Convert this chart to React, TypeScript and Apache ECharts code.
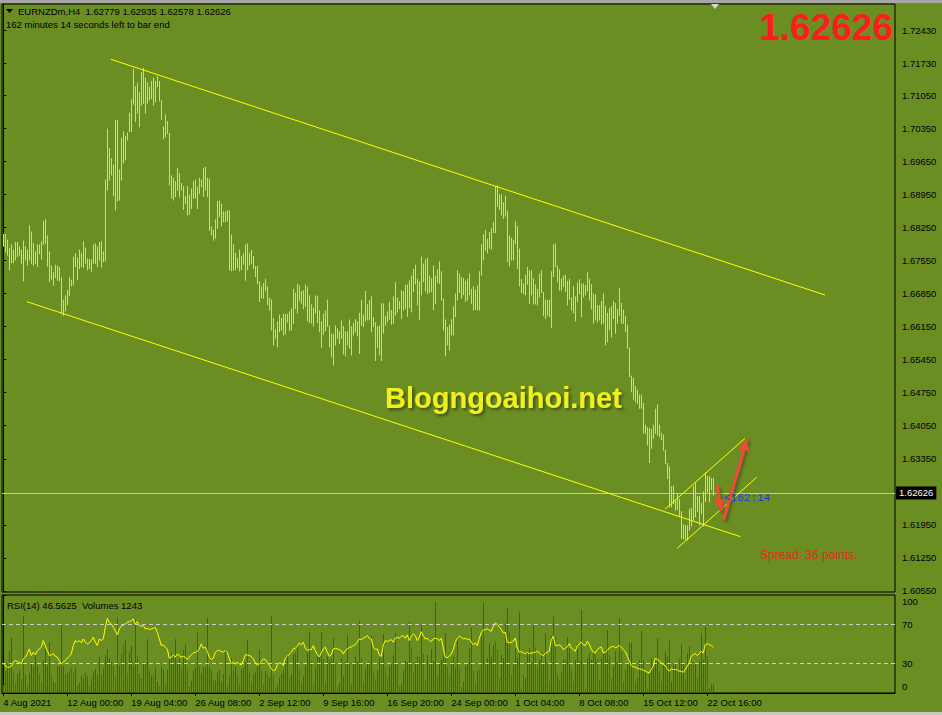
import React, { useEffect, useRef } from 'react';
import * as echarts from 'echarts';

const symbolTitle = 'EURNZDm,H4';
const lastBarOHLC = ['1.62779', '1.62935', '1.62578', '1.62626'];
const timerText = '162 minutes 14 seconds left to bar end';
const currentPrice = 1.62626;
const bigPriceText = '1.62626';
const rsiTitle = 'RSI(14) 46.5625';
const volTitle = 'Volumes 1243';
const countdownText = '<162:14';
const spreadText = 'Spread: 36 points.';
const watermark = 'Blogngoaihoi.net';

const highs = [
  1.6810,1.6810,1.6798,1.6781,1.6788,1.6777,1.6793,1.6793,1.6784,1.6777,
  1.6796,1.6784,1.6777,1.6828,1.6815,1.6791,1.6773,1.6788,1.6788,1.6795,
  1.6837,1.6841,1.6807,1.6773,1.6743,1.6729,1.6745,1.6743,1.6740,1.6718,
  1.6671,1.6680,1.6692,1.6719,1.6713,1.6762,1.6769,1.6760,1.6777,1.6770,
  1.6795,1.6781,1.6758,1.6757,1.6756,1.6788,1.6790,1.6784,1.6793,1.6795,
  1.6773,1.6925,1.7033,1.6992,1.6971,1.6957,1.7052,1.7051,1.6947,1.7013,
  1.7028,1.7018,1.7025,1.7067,1.7095,1.7160,1.7123,1.7130,1.7110,1.7153,
  1.7162,1.7141,1.7131,1.7122,1.7134,1.7141,1.7134,1.7144,1.7134,1.7093,
  1.7038,1.7063,1.7049,1.7024,1.6934,1.6929,1.6922,1.6950,1.6939,1.6918,
  1.6911,1.6890,1.6911,1.6893,1.6906,1.6922,1.6925,1.6910,1.6929,1.6925,
  1.6950,1.6952,1.6929,1.6927,1.6826,1.6819,1.6841,1.6880,1.6881,1.6874,
  1.6858,1.6858,1.6860,1.6860,1.6809,1.6788,1.6770,1.6759,1.6777,1.6763,
  1.6769,1.6788,1.6790,1.6770,1.6776,1.6763,1.6742,1.6742,1.6710,1.6699,
  1.6706,1.6715,1.6699,1.6675,1.6671,1.6632,1.6608,1.6625,1.6639,1.6632,
  1.6641,1.6641,1.6641,1.6646,1.6652,1.6694,1.6686,1.6705,1.6701,1.6689,
  1.6691,1.6703,1.6698,1.6680,1.6661,1.6654,1.6680,1.6678,1.6648,1.6625,
  1.6641,1.6648,1.6671,1.6616,1.6599,1.6599,1.6616,1.6610,1.6604,1.6627,
  1.6615,1.6604,1.6604,1.6629,1.6615,1.6622,1.6629,1.6625,1.6643,1.6671,
  1.6639,1.6689,1.6661,1.6670,1.6678,1.6634,1.6623,1.6615,1.6616,1.6663,
  1.6663,1.6637,1.6646,1.6666,1.6649,1.6678,1.6708,1.6675,1.6668,1.6691,
  1.6689,1.6703,1.6703,1.6712,1.6722,1.6736,1.6745,1.6715,1.6710,1.6762,
  1.6747,1.6756,1.6760,1.6722,1.6716,1.6743,1.6722,1.6735,1.6752,1.6731,
  1.6673,1.6629,1.6613,1.6618,1.6629,1.6657,1.6684,1.6733,1.6726,1.6719,
  1.6717,1.6711,1.6715,1.6726,1.6694,1.6699,1.6692,1.6701,1.6731,1.6788,
  1.6809,1.6818,1.6800,1.6814,1.6822,1.6835,1.6911,1.6913,1.6894,1.6894,
  1.6877,1.6891,1.6860,1.6807,1.6802,1.6798,1.6837,1.6827,1.6779,1.6714,
  1.6705,1.6724,1.6740,1.6733,1.6733,1.6716,1.6703,1.6694,1.6726,1.6733,
  1.6687,1.6671,1.6670,1.6671,1.6731,1.6788,1.6790,1.6743,1.6735,1.6716,
  1.6722,1.6724,1.6711,1.6715,1.6675,1.6700,1.6678,1.6707,1.6714,1.6705,
  1.6705,1.6702,1.6729,1.6715,1.6704,1.6684,1.6682,1.6659,1.6659,1.6668,
  1.6684,1.6658,1.6643,1.6653,1.6657,1.6668,1.6664,1.6651,1.6696,1.6664,
  1.6650,1.6636,1.6618,1.6569,1.6510,1.6505,1.6488,1.6481,1.6470,1.6470,
  1.6452,1.6406,1.6401,1.6399,1.6397,1.6406,1.6440,1.6449,1.6406,1.6389,
  1.6385,1.6353,1.6325,1.6318,1.6276,1.6277,1.6247,1.6260,1.6249,1.6223,
  1.6195,1.6193,1.6193,1.6228,1.6230,1.6276,1.6283,1.6255,1.6255,1.6240,
  1.6265,1.6305,1.6297,1.6297,1.6293,1.62935,
];

const lows = [
  1.6785,1.6773,1.6766,1.6735,1.6750,1.6750,1.6756,1.6763,1.6766,1.6749,
  1.6712,1.6756,1.6745,1.6756,1.6749,1.6745,1.6749,1.6742,1.6769,1.6758,
  1.6789,1.6791,1.6743,1.6710,1.6715,1.6703,1.6719,1.6713,1.6712,1.6643,
  1.6639,1.6648,1.6661,1.6680,1.6701,1.6703,1.6742,1.6715,1.6738,1.6742,
  1.6740,1.6749,1.6735,1.6738,1.6731,1.6749,1.6749,1.6742,1.6756,1.6741,
  1.6752,1.6754,1.6904,1.6925,1.6936,1.6892,1.6862,1.6881,1.6883,1.6925,
  1.6961,1.6968,1.7010,1.7028,1.7028,1.7086,1.7049,1.7067,1.7038,1.7084,
  1.7088,1.7067,1.7088,1.7095,1.7098,1.7084,1.7091,1.7123,1.7093,1.7054,
  1.7013,1.7017,1.7024,1.6915,1.6887,1.6883,1.6890,1.6904,1.6890,1.6904,
  1.6863,1.6876,1.6851,1.6853,1.6865,1.6887,1.6887,1.6865,1.6897,1.6911,
  1.6891,1.6904,1.6890,1.6819,1.6809,1.6798,1.6802,1.6823,1.6848,1.6828,
  1.6837,1.6837,1.6839,1.6735,1.6733,1.6735,1.6735,1.6740,1.6733,1.6735,
  1.6747,1.6713,1.6735,1.6745,1.6749,1.6738,1.6721,1.6706,1.6668,1.6675,
  1.6675,1.6691,1.6661,1.6650,1.6608,1.6576,1.6590,1.6572,1.6604,1.6608,
  1.6597,1.6599,1.6625,1.6606,1.6608,1.6622,1.6653,1.6644,1.6670,1.6664,
  1.6653,1.6658,1.6627,1.6623,1.6622,1.6616,1.6643,1.6623,1.6604,1.6571,
  1.6599,1.6606,1.6615,1.6572,1.6551,1.6533,1.6576,1.6590,1.6579,1.6590,
  1.6557,1.6553,1.6576,1.6569,1.6555,1.6597,1.6604,1.6595,1.6558,1.6618,
  1.6615,1.6627,1.6629,1.6630,1.6604,1.6615,1.6543,1.6571,1.6555,1.6543,
  1.6601,1.6618,1.6625,1.6630,1.6620,1.6622,1.6639,1.6646,1.6653,1.6632,
  1.6650,1.6653,1.6637,1.6655,1.6646,1.6689,1.6705,1.6661,1.6630,1.6682,
  1.6710,1.6690,1.6685,1.6687,1.6689,1.6651,1.6664,1.6708,1.6706,1.6671,
  1.6608,1.6553,1.6576,1.6565,1.6597,1.6597,1.6636,1.6671,1.6687,1.6675,
  1.6682,1.6668,1.6671,1.6682,1.6664,1.6650,1.6651,1.6650,1.6650,1.6724,
  1.6756,1.6776,1.6771,1.6781,1.6779,1.6814,1.6814,1.6869,1.6863,1.6851,
  1.6844,1.6849,1.6752,1.6743,1.6756,1.6756,1.6791,1.6738,1.6701,1.6687,
  1.6685,1.6682,1.6705,1.6664,1.6682,1.6663,1.6663,1.6661,1.6678,1.6687,
  1.6638,1.6632,1.6639,1.6636,1.6613,1.6721,1.6742,1.6710,1.6692,1.6692,
  1.6700,1.6689,1.6661,1.6673,1.6650,1.6644,1.6627,1.6668,1.6685,1.6636,
  1.6678,1.6682,1.6690,1.6671,1.6652,1.6622,1.6629,1.6624,1.6629,1.6620,
  1.6622,1.6576,1.6583,1.6608,1.6593,1.6632,1.6601,1.6622,1.6639,1.6622,
  1.6622,1.6604,1.6569,1.6509,1.6477,1.6461,1.6456,1.6452,1.6442,1.6442,
  1.6389,1.6389,1.6364,1.6327,1.6357,1.6378,1.6389,1.6385,1.6382,1.6375,
  1.6353,1.6325,1.6293,1.6233,1.6233,1.6240,1.6226,1.6228,1.6212,1.6166,
  1.6166,1.6164,1.6163,1.6184,1.6193,1.6205,1.6212,1.6223,1.6195,1.6219,
  1.6193,1.6244,1.6265,1.6244,1.6269,1.62578,
];

const rsi = [
  29.7,28.0,26.3,26.3,27.3,31.4,33.1,32.1,31.4,29.7,
  34.8,36.5,39.9,45.0,38.2,41.6,38.9,43.3,45.0,46.7,
  53.5,48.4,43.3,38.2,38.9,39.9,37.5,36.5,33.1,29.7,
  31.4,33.1,35.5,37.5,39.9,48.4,53.5,51.8,53.5,51.1,
  55.2,51.8,50.1,51.1,53.5,56.9,51.8,48.4,55.2,53.5,
  55.2,67.0,76.2,72.1,70.5,67.0,63.7,59.3,65.4,68.1,
  69.4,70.5,72.1,72.8,73.8,75.5,70.5,72.8,68.8,68.1,
  68.8,65.4,66.0,64.7,65.4,66.0,67.0,62.0,55.2,48.4,
  49.1,46.7,45.0,35.5,36.5,38.9,36.5,39.9,38.2,36.5,
  37.5,36.5,34.1,36.5,38.9,40.9,41.6,42.3,45.0,50.1,
  45.7,46.7,42.3,36.5,34.1,35.5,41.6,43.3,43.3,42.3,
  41.6,43.3,41.6,34.8,29.7,31.4,29.7,31.4,29.7,28.7,
  33.1,38.9,38.9,38.2,37.5,34.8,30.7,28.7,29.7,32.1,
  34.8,34.1,30.7,28.7,24.6,22.9,23.3,28.7,30.7,30.1,
  28.0,35.5,37.5,39.6,41.6,45.0,45.7,47.7,51.1,49.1,
  51.8,45.7,43.6,44.3,44.3,48.4,43.0,39.6,36.9,40.9,
  45.0,46.7,41.6,37.5,38.9,45.0,45.7,45.0,44.3,43.3,
  39.9,43.3,45.0,46.4,47.0,48.4,49.1,51.8,55.2,54.5,
  55.9,56.9,58.6,55.9,55.2,46.7,44.3,45.0,38.9,37.5,
  49.1,53.5,52.5,53.5,54.5,51.8,55.9,56.9,55.9,57.9,
  58.6,55.9,59.3,53.5,57.9,60.3,58.6,53.5,56.9,62.6,
  58.6,55.2,55.9,53.5,52.5,55.2,55.9,55.2,53.5,55.9,
  45.7,36.5,36.2,37.5,39.9,44.3,51.8,55.9,57.9,56.9,
  55.2,55.9,54.5,55.2,51.8,49.1,51.1,48.4,55.9,62.0,
  64.0,64.7,65.4,64.0,63.0,68.1,71.5,69.8,67.4,64.7,
  61.3,62.0,51.8,51.1,51.8,52.8,56.2,46.0,41.6,42.3,
  40.9,40.2,41.6,40.2,40.9,40.9,41.6,42.6,40.9,39.2,
  38.2,40.2,41.6,42.6,54.5,57.9,48.4,48.4,49.1,47.7,
  44.3,45.7,47.0,50.4,46.0,44.3,42.6,47.7,50.4,51.8,
  49.4,48.4,52.8,49.4,45.0,41.6,40.9,44.3,46.0,47.0,
  40.9,41.6,43.6,46.0,47.0,47.7,46.3,47.0,48.4,47.0,
  44.3,42.3,37.5,32.4,28.0,26.7,26.7,25.3,24.6,24.0,
  23.3,22.3,21.2,20.6,24.0,27.3,35.8,34.1,32.8,30.7,
  29.0,28.0,24.6,22.3,24.6,24.0,24.0,23.3,22.3,21.9,
  21.2,24.0,27.3,30.7,37.5,39.2,40.2,38.2,40.2,42.6,
  40.9,49.4,50.4,49.4,48.4,46.6,
];

const volumes = [
  1104,3082,4002,5842,7682,2760,1380,2622,3220,1932,
  10672,2484,920,2760,4324,3542,5244,3772,2668,1472,
  4462,6072,3864,6992,2530,1564,1380,3680,3680,9522,
  3680,2576,2760,3082,3496,2852,3542,1104,1380,2392,
  2024,2852,2300,920,1932,2944,3312,2484,4922,2484,
  3404,5244,6072,4784,4324,3772,2392,10442,3772,5382,
  6762,7452,2760,5612,6532,3772,10212,5060,2622,2024,
  4232,4002,7452,3082,2392,2484,3542,1564,920,3680,
  3220,1380,3220,4922,5520,5152,7452,4232,4692,3220,
  5980,6762,3220,920,1702,3082,3542,8372,3772,2760,
  3542,3680,10442,3542,3082,1840,1702,2852,3220,1564,
  2622,5980,920,2392,4784,3220,3680,2622,1380,3220,
  3542,4232,7360,3082,1380,2622,2944,3680,5980,3082,
  1242,3082,2760,2162,10580,2392,644,1104,2162,2622,
  3082,4462,5152,2162,2622,5382,5612,6624,3220,1380,
  2392,3864,5612,8464,4462,1380,3542,5060,5244,8464,
  4692,1564,5060,4784,4692,7544,4002,782,1380,4784,
  2392,4462,8004,4002,1242,4002,5060,4324,9982,4922,
  1380,3312,4140,4324,7912,3082,1932,3220,4922,4784,
  8142,3542,2162,3772,4002,5244,8280,4140,920,1242,
  3082,4462,4324,9844,6302,2852,4324,5060,5060,9384,
  5382,1702,5244,4140,6072,4462,12604,2392,4232,4600,
  5244,8280,3680,2300,4324,5060,3542,7820,3542,782,
  1564,3680,4002,6164,9062,3082,1380,3082,3312,7820,
  12512,3910,4830,6900,5060,6670,7130,6072,2070,5290,
  4830,9660,11868,8510,2530,3910,6210,4830,11270,552,
  2530,2070,5750,6210,4140,9292,6348,3680,4600,5750,
  4232,8280,4140,1610,7912,10580,7912,2530,1840,2990,
  4692,4600,7728,6210,3312,1610,4600,6900,4508,11500,
  3910,552,4830,5520,4600,5750,5290,4692,1840,4830,
  5520,5980,8740,5290,2070,3680,5750,4232,10350,5750,
  1610,3220,4232,6900,6900,3450,1610,2070,4600,8556,
  4600,2990,552,2530,4830,3910,5060,7590,2990,1610,
  3910,5750,5060,7268,1610,3910,4140,3220,4830,6670,
  4140,1932,5520,6440,5060,3910,4140,2070,4370,8280,
  4600,9200,5060,690,1288,1243,
];

// 1 = volume up (green), 0 = volume down (red)
const volUp = [
  0,1,1,1,1,0,0,1,1,0,
  1,1,0,1,1,1,1,1,0,0,
  1,1,1,1,0,1,0,1,1,1,
  1,0,1,1,0,0,1,0,1,1,
  1,1,1,0,1,1,1,1,1,0,
  1,1,1,1,0,0,0,1,1,0,
  0,1,0,1,1,1,1,0,1,0,
  1,0,1,1,1,0,1,1,0,1,
  1,0,1,1,1,1,1,1,1,0,
  1,1,0,0,1,1,1,1,0,1,
  1,1,1,1,1,0,1,1,1,1,
  1,1,0,1,1,0,1,0,0,1,
  1,1,1,0,0,1,1,1,1,0,
  0,1,0,1,1,0,0,1,1,1,
  1,1,1,0,1,1,1,1,0,0,
  1,1,1,1,0,0,1,1,1,1,
  0,0,1,0,1,1,0,0,1,1,
  1,0,1,0,0,1,1,0,1,0,
  0,1,1,1,1,0,0,1,1,0,
  1,0,0,1,1,1,1,0,0,1,
  1,1,1,1,0,0,1,1,0,1,
  0,0,1,0,1,1,1,0,1,1,
  1,1,0,0,1,1,1,1,0,0,
  1,1,1,1,1,0,0,1,0,1,
  1,0,1,1,1,1,0,0,0,1,
  1,1,1,0,0,1,1,1,1,0,
  0,1,1,1,1,1,0,0,1,1,
  1,1,0,0,1,1,0,1,0,1,
  1,1,1,1,0,0,1,1,1,1,
  0,0,1,1,1,1,0,0,0,1,
  1,1,1,0,0,1,1,1,1,0,
  0,1,1,1,1,0,0,1,1,1,
  1,1,0,1,1,1,1,1,0,0,
  1,1,1,1,1,1,1,0,0,1,
  1,0,1,1,0,0,1,0,1,1,
  1,1,0,0,1,1,
];

const priceTicks = [
  1.72430, 1.71730, 1.71050, 1.70350, 1.69650, 1.68950, 1.68250, 1.67550, 1.66850,
  1.66150, 1.65450, 1.64750, 1.64050, 1.63350, 1.61950, 1.61250, 1.60550,
];
const rsiTicks = [0, 30, 70, 100];
const rsiLevels = [30, 70];
const timeTickBars = [0, 32, 64, 96, 128, 160, 192, 224, 256, 288, 320, 352];
const timeLabels = [
  '4 Aug 2021', '12 Aug 00:00', '19 Aug 04:00', '26 Aug 08:00', '2 Sep 12:00', '9 Sep 16:00',
  '16 Sep 20:00', '24 Sep 00:00', '1 Oct 04:00', '8 Oct 08:00', '15 Oct 12:00', '22 Oct 16:00',
];

// Trend lines drawn on the chart: [[barIndex, price], [barIndex, price]]
const channelLines = [
  [[53.85, 1.71809], [410.85, 1.66818]],
  [[11.85, 1.66676], [368.6, 1.61699]],
  [[330.85, 1.6228], [370.85, 1.63783]],
  [[337, 1.61454], [376.7, 1.62957]],
];
const arrowLines = [
  [[357, 1.62773], [358.85, 1.62244]],
  [[360.1, 1.62053], [371.85, 1.63768]],
];

const BG = '#6B8E23';
const BAR_COLOR = '#EEDD2E';
const FONT = 'Liberation Sans';
const FS = 9.5;

export default function App() {
  const ref = useRef<HTMLDivElement>(null);

  useEffect(() => {
    if (!ref.current) return;
    const chart = echarts.init(ref.current, null, { renderer: 'svg' });

    const X_MIN = -0.65;
    const X_MAX = 445.85;

    const barData = highs.map((h, i) => [i, lows[i], h]);
    const volData = volumes.map((v, i) => [i, v, volUp[i]]);
    const rsiData = rsi.map((v, i) => [i, v]);

    const trendMarks: any[] = channelLines.map((ln) => [
      { coord: ln[0], symbol: 'none' },
      { coord: ln[1], symbol: 'none', lineStyle: { color: '#FFFF00', width: 1, type: 'solid' } },
    ]);
    const arrowMarks: any[] = arrowLines.map((ln) => [
      { coord: ln[0], symbol: 'none' },
      {
        coord: ln[1],
        symbol: 'arrow',
        symbolSize: [9, 13],
        lineStyle: {
          color: '#F2483A', width: 3, type: 'solid',
          shadowColor: 'rgba(40,50,10,0.55)', shadowBlur: 3, shadowOffsetX: 2, shadowOffsetY: 2,
        },
      },
    ]);

    const option: any = {
      animation: false,
      backgroundColor: BG,
      textStyle: { fontFamily: FONT },
      grid: [
        { left: 2, top: 4, width: 893, height: 588, show: true, borderColor: '#000', borderWidth: 1, backgroundColor: 'transparent' },
        { left: 2, top: 595, width: 893, height: 98, show: true, borderColor: '#000', borderWidth: 1, backgroundColor: 'transparent' },
      ],
      xAxis: [
        { type: 'value', gridIndex: 0, min: X_MIN, max: X_MAX, show: false },
        {
          type: 'value', gridIndex: 1, min: X_MIN, max: X_MAX,
          axisLine: { show: true, lineStyle: { color: '#000' } },
          axisTick: { show: true, customValues: timeTickBars, length: 3, lineStyle: { color: '#000' } },
          axisLabel: {
            customValues: timeTickBars,
            formatter: (v: number) => timeLabels[Math.round(v / 32)] ?? '',
            align: 'left', color: '#000', fontSize: FS, fontFamily: FONT, margin: 4,
          },
          splitLine: { show: false },
        },
      ],
      yAxis: [
        {
          type: 'value', gridIndex: 0, position: 'right', min: 1.60528, max: 1.72981,
          axisLine: { show: true, lineStyle: { color: '#000' } },
          axisTick: { show: true, customValues: priceTicks, length: 3, lineStyle: { color: '#000' } },
          axisLabel: {
            customValues: priceTicks,
            formatter: (v: number) => v.toFixed(5),
            color: '#000', fontSize: FS, fontFamily: FONT, margin: 7,
          },
          splitLine: { show: false },
        },
        {
          type: 'value', gridIndex: 1, position: 'right', min: 0, max: 100,
          axisLine: { show: true, lineStyle: { color: '#000' } },
          axisTick: { show: true, customValues: rsiTicks, length: 3, lineStyle: { color: '#000' } },
          axisLabel: {
            customValues: rsiTicks,
            formatter: (v: number) => (v === 100 ? '{t|100}' : v === 0 ? '{b|0}' : '{m|' + v + '}'),
            rich: {
              t: { padding: [13, 0, 0, 0], color: '#000', fontSize: FS, fontFamily: FONT },
              b: { padding: [0, 0, 13, 0], color: '#000', fontSize: FS, fontFamily: FONT },
              m: { color: '#000', fontSize: FS, fontFamily: FONT },
            },
            margin: 7,
          },
          splitLine: { show: false },
        },
        { type: 'value', gridIndex: 1, min: 0, max: 13570, show: false },
      ],
      series: [
        {
          type: 'custom',
          name: 'bars',
          xAxisIndex: 0,
          yAxisIndex: 0,
          silent: true,
          clip: true,
          data: barData,
          encode: { x: 0, y: [1, 2] },
          renderItem: (params: any, api: any) => {
            const p1 = api.coord([api.value(0), api.value(1)]);
            const p2 = api.coord([api.value(0), api.value(2)]);
            const px = Math.round(p1[0]) + 0.5;
            return {
              type: 'line',
              shape: { x1: px, y1: p1[1] + 0.5, x2: px, y2: p2[1] - 0.5 },
              style: { stroke: BAR_COLOR, lineWidth: 1 },
            };
          },
        },
        {
          type: 'line',
          name: 'priceLine',
          xAxisIndex: 0,
          yAxisIndex: 0,
          data: [[0, currentPrice]],
          symbol: 'none',
          lineStyle: { opacity: 0 },
          silent: true,
          z: 4,
          markLine: {
            silent: true,
            precision: 5,
            symbol: ['none', 'none'],
            emphasis: { disabled: true },
            lineStyle: { color: '#C8C8C8', width: 1, type: 'solid' },
            label: {
              show: true, position: 'end', distance: 1,
              formatter: () => currentPrice.toFixed(5),
              color: '#fff', backgroundColor: '#000', padding: [2, 3, 1, 3],
              fontSize: FS, fontFamily: FONT,
            },
            data: [{ yAxis: currentPrice }],
          },
        },
        {
          type: 'line',
          name: 'annotations',
          xAxisIndex: 0,
          yAxisIndex: 0,
          data: [[0, currentPrice]],
          symbol: 'none',
          lineStyle: { opacity: 0 },
          silent: true,
          z: 5,
          markLine: {
            silent: true,
            precision: 5,
            symbol: ['none', 'none'],
            label: { show: false },
            lineStyle: { color: '#FFFF00', width: 1, type: 'solid' },
            emphasis: { disabled: true },
            data: [...trendMarks, ...arrowMarks],
          },
        },
        {
          type: 'custom',
          name: 'volumes',
          xAxisIndex: 1,
          yAxisIndex: 2,
          silent: true,
          data: volData,
          encode: { x: 0, y: 1 },
          renderItem: (params: any, api: any) => {
            const p0 = api.coord([api.value(0), 0]);
            const p1 = api.coord([api.value(0), api.value(1)]);
            const px = Math.round(p0[0]) + 0.5;
            return {
              type: 'line',
              shape: { x1: px, y1: p0[1], x2: px, y2: p1[1] },
              style: { stroke: api.value(2) ? '#0C800C' : '#E8200E', lineWidth: 1 },
            };
          },
        },
        {
          type: 'line',
          name: 'RSI',
          xAxisIndex: 1,
          yAxisIndex: 1,
          data: rsiData,
          symbol: 'none',
          silent: true,
          z: 4,
          lineStyle: { color: '#FFFF00', width: 1 },
          markLine: {
            silent: true,
            symbol: ['none', 'none'],
            label: { show: false },
            lineStyle: { color: '#D0D0D0', width: 1, type: [4, 3] },
            data: rsiLevels.map((v) => ({ yAxis: v })),
          },
        },
      ],
      graphic: [
        { type: 'rect', silent: true, shape: { x: 0, y: 0, width: 942, height: 3 }, style: { fill: '#A6A6A6' } },
        { type: 'rect', silent: true, shape: { x: 0, y: 712, width: 942, height: 3 }, style: { fill: '#C8C8C8' } },
        { type: 'polygon', silent: true, shape: { points: [[6, 9], [13, 9], [9.5, 13]] }, style: { fill: '#000' } },
        { type: 'polygon', silent: true, shape: { points: [[711, 4], [719, 4], [715, 9]] }, style: { fill: '#D8D8D8' } },
        {
          type: 'text', silent: true, x: 18, y: 11,
          style: {
            text: symbolTitle + '  ' + lastBarOHLC.join(' '),
            fill: '#000', fontSize: FS, fontFamily: FONT, verticalAlign: 'middle',
          },
        },
        {
          type: 'text', silent: true, x: 6, y: 24,
          style: { text: timerText, fill: '#000', fontSize: FS, fontFamily: FONT, verticalAlign: 'middle' },
        },
        {
          type: 'text', silent: true, x: 893, y: 27,
          style: {
            text: bigPriceText, fill: '#FF1C1C', fontSize: 37, fontWeight: 'bold', fontFamily: FONT,
            align: 'right', verticalAlign: 'middle',
          },
        },
        {
          type: 'text', silent: true, x: 385, y: 398, z: 100,
          style: {
            text: watermark, fill: '#F0F01C', fontSize: 29, fontWeight: 'bold', fontFamily: FONT,
            verticalAlign: 'middle',
            textShadowColor: 'rgba(40,50,10,0.7)', textShadowBlur: 3, textShadowOffsetX: 2, textShadowOffsetY: 2,
          },
        },
        {
          type: 'text', silent: true, x: 724, y: 498, z: 50,
          style: { text: countdownText, fill: '#1C3CE0', fontSize: 11, fontFamily: 'Liberation Mono', verticalAlign: 'middle' },
        },
        {
          type: 'text', silent: true, x: 760, y: 555,
          style: { text: spreadText, fill: '#E8281E', fontSize: 12, fontFamily: FONT, verticalAlign: 'middle' },
        },
        {
          type: 'text', silent: true, x: 7, y: 605,
          style: { text: rsiTitle + '  ' + volTitle, fill: '#000', fontSize: FS, fontFamily: FONT, verticalAlign: 'middle' },
        },
      ],
    };

    chart.setOption(option);
    return () => chart.dispose();
  }, []);

  return (
    <div
      ref={ref}
      style={{ position: 'fixed', left: 0, top: 0, width: 942, height: 715, background: BG }}
    />
  );
}
